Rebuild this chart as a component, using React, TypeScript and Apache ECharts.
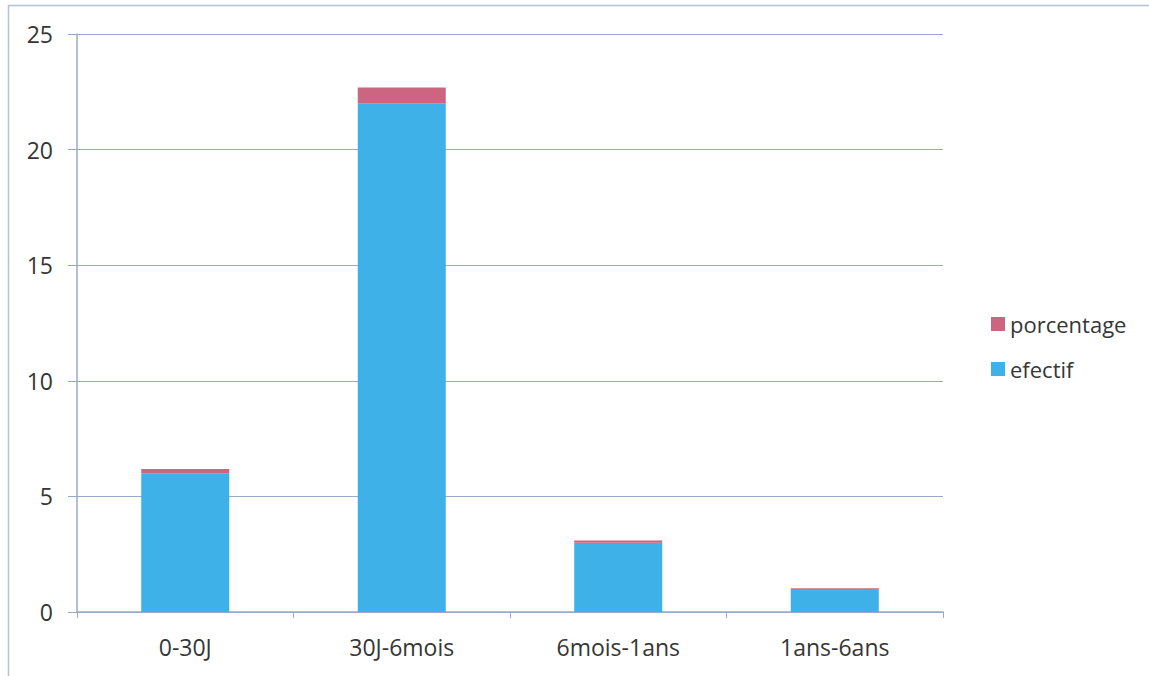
import React, { useEffect, useRef } from "react";
import * as echarts from "echarts";

const categories = ["0-30J", "30J-6mois", "6mois-1ans", "1ans-6ans"];
const efectif = [6, 22, 3, 1];
const porcentage = [0.1875, 0.6875, 0.09375, 0.03125];
const yTicks = { min: 0, max: 25, interval: 5 };

const FONT = "'Open Sans', sans-serif";
const TEXT = "#363636";
const LINE = "#98aacb";

export default function App() {
  const ref = useRef<HTMLDivElement>(null);

  useEffect(() => {
    if (!ref.current) return;
    const chart = echarts.init(ref.current, null, { renderer: "svg" });
    chart.setOption({
      animation: false,
      backgroundColor: "#ffffff",
      textStyle: { fontFamily: FONT },
      graphic: [
        {
          type: "rect",
          shape: { x: 8.5, y: 5.5, width: 1200, height: 700 },
          style: { fill: "none", stroke: "#b4c2d8", lineWidth: 1.5 },
          silent: true,
        },
      ],
      grid: { left: 77, top: 34, right: 206, bottom: 64, containLabel: false },
      legend: {
        orient: "vertical",
        left: 986,
        top: 308,
        itemWidth: 14,
        itemHeight: 14,
        itemGap: 23,
        icon: "rect",
        textStyle: { fontFamily: FONT, fontSize: 22, color: TEXT },
        data: ["porcentage", "efectif"],
      },
      xAxis: {
        type: "category",
        data: categories,
        axisLine: { lineStyle: { color: LINE, width: 1.5 } },
        axisTick: { show: true, length: 6, lineStyle: { color: LINE } },
        axisLabel: { fontFamily: FONT, fontSize: 23, color: TEXT, margin: 23 },
      },
      yAxis: {
        type: "value",
        min: yTicks.min,
        max: yTicks.max,
        interval: yTicks.interval,
        axisLine: { show: true, lineStyle: { color: LINE, width: 1.5 } },
        axisTick: { show: true, length: 9, lineStyle: { color: LINE } },
        axisLabel: { fontFamily: FONT, fontSize: 23, color: TEXT, margin: 24 },
        splitLine: { lineStyle: { color: LINE, width: 1.2 } },
      },
      series: [
        {
          name: "efectif",
          type: "bar",
          stack: "total",
          data: efectif,
          barWidth: 88,
          itemStyle: { color: "#3db1e8" },
        },
        {
          name: "porcentage",
          type: "bar",
          stack: "total",
          data: porcentage,
          barWidth: 88,
          itemStyle: { color: "#cc6680" },
        },
      ],
    });
    return () => chart.dispose();
  }, []);

  return (
    <div
      ref={ref}
      style={{ position: "fixed", left: 0, top: 0, width: 1149, height: 676 }}
    />
  );
}
